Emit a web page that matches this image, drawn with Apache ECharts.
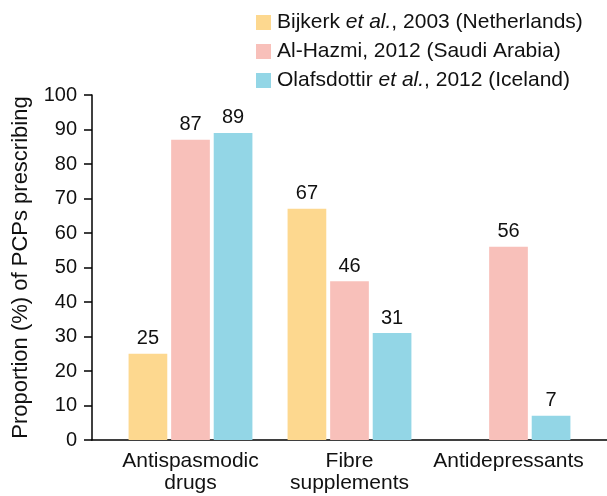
<!DOCTYPE html>
<html>
<head>
<meta charset="utf-8">
<script src="https://cdn.jsdelivr.net/npm/echarts@6/dist/echarts.min.js"></script>
<style>
html,body{margin:0;padding:0;background:#fff;}
#c{width:607px;height:496px;}
</style>
</head>
<body>
<div id="c"></div>
<script>
const categories = ['Antispasmodic\ndrugs', 'Fibre\nsupplements', 'Antidepressants'];
const seriesNames = ['Bijkerk et al., 2003 (Netherlands)', 'Al-Hazmi, 2012 (Saudi Arabia)', 'Olafsdottir et al., 2012 (Iceland)'];
const bijkerk = [25, 67, null];
const alHazmi = [87, 46, 56];
const olafsdottir = [89, 31, 7];
const colors = ['#FDD88F', '#F8C0BA', '#93D6E6'];
const yTicks = {min: 0, max: 100, interval: 10};

const font = '"Liberation Sans", Arial, Helvetica, sans-serif';
const chart = echarts.init(document.getElementById('c'), null, {renderer: 'canvas'});

function mkSeries(name, data, color) {
  return {
    name: name, type: 'bar', data: data,
    xAxisIndex: 1, yAxisIndex: 1,
    barWidth: 38.7, barGap: '10%',
    itemStyle: {color: color},
    label: {show: true, position: 'top', distance: 5, color: '#111', fontSize: 20, fontFamily: font},
    emphasis: {disabled: true}
  };
}

chart.setOption({
  animation: false,
  textStyle: {fontFamily: font},
  color: colors,
  legend: {
    orient: 'vertical', left: 251, top: 7,
    itemWidth: 15, itemHeight: 15, itemGap: 8,
    icon: 'rect',
    textStyle: {fontSize: 21, lineHeight: 21, color: '#111', fontFamily: font, padding: [0,0,0,1],
      rich: {i: {fontStyle: 'italic', fontSize: 21, lineHeight: 21, color: '#111', fontFamily: font}}},
    formatter: function (n) { return n.replace('et al.', '{i|et al.}'); },
    data: seriesNames
  },
  grid: [
    {left: 92, right: 0, top: 95, bottom: 56},
    {left: 111, right: 19, top: 95, bottom: 56}
  ],
  xAxis: [
    {type: 'value', gridIndex: 0, min: 0, max: 1,
      axisLine: {show: true, lineStyle: {color: '#000', width: 1.5}},
      axisTick: {show: false}, axisLabel: {show: false}, splitLine: {show: false}},
    {type: 'category', gridIndex: 1, data: categories,
      axisLine: {show: false}, axisTick: {show: false},
      axisLabel: {fontSize: 21, color: '#111', lineHeight: 22, margin: 10, fontFamily: font, interval: 0}}
  ],
  yAxis: [
    {type: 'value', gridIndex: 0, min: yTicks.min, max: yTicks.max, interval: yTicks.interval,
      name: 'Proportion (%) of PCPs prescribing', nameLocation: 'middle', nameGap: 60,
      nameTextStyle: {fontSize: 22, color: '#111', fontFamily: font},
      axisLine: {show: true, lineStyle: {color: '#000', width: 1.5}},
      axisTick: {show: true, length: 8, lineStyle: {color: '#000', width: 1.5}},
      axisLabel: {fontSize: 20, color: '#111', margin: 15, fontFamily: font},
      splitLine: {show: false}},
    {type: 'value', gridIndex: 1, min: yTicks.min, max: yTicks.max, interval: yTicks.interval, show: false}
  ],
  series: [
    mkSeries(seriesNames[0], bijkerk, colors[0]),
    mkSeries(seriesNames[1], alHazmi, colors[1]),
    mkSeries(seriesNames[2], olafsdottir, colors[2])
  ]
});
</script>
</body>
</html>
